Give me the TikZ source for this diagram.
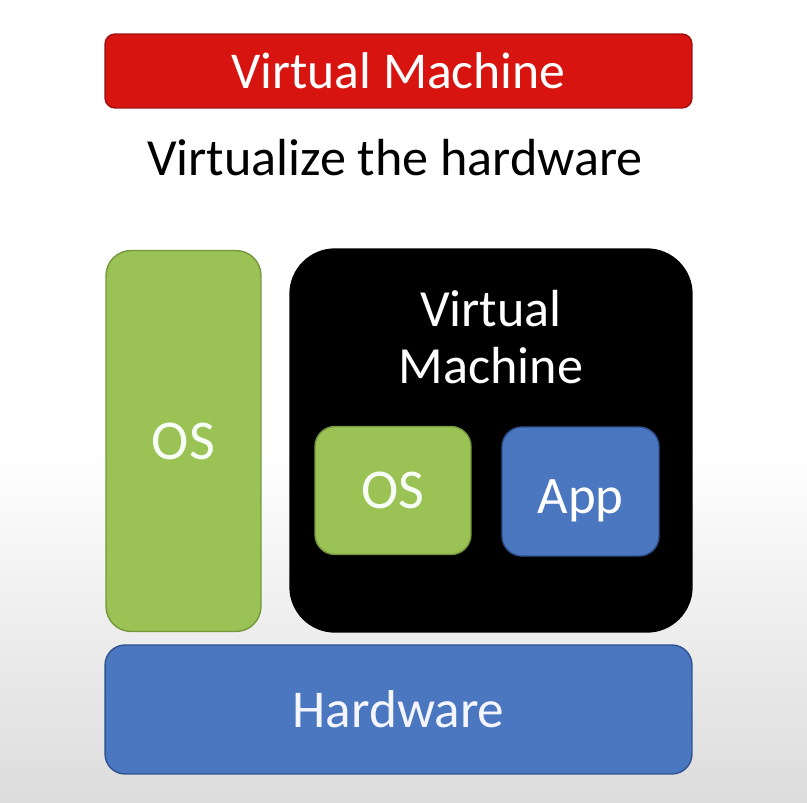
\documentclass[tikz,border=0pt]{standalone}
\usepackage{fontspec}
\setmainfont{Carlito}
\usepackage{tikz}
\usetikzlibrary{positioning}

\definecolor{vmred}{HTML}{D7140F}
\definecolor{vmredline}{HTML}{A01010}
\definecolor{osgreen}{HTML}{9BC254}
\definecolor{osgreenline}{HTML}{76973E}
\definecolor{hwblue}{HTML}{4A77BF}
\definecolor{hwblueline}{HTML}{2F5290}
\definecolor{bggray}{HTML}{DCDCDC}

\tikzset{
  box/.style={draw, line width=0.8pt, inner sep=0pt, text=white},
  greenbox/.style={box, fill=osgreen, draw=osgreenline, text=green!3!white},
  bluebox/.style={box, fill=hwblue, draw=hwblueline},
}

\begin{document}
\begin{tikzpicture}[x=0.02cm, y=-0.02cm]
   \useasboundingbox (0,0) rectangle (807,803);
   %background
   \fill[white] (0,0) rectangle (807,450);
   \shade[top color=white, bottom color=bggray] (0,450) rectangle (807,803);

   %title
   \node[box, fill=vmred, draw=vmredline, rounded corners=0.2cm,
         minimum width=11.74cm, minimum height=1.48cm,
         font=\fontsize{29.4}{31}\selectfont] (title) at (398.5,71) {Virtual Machine};
   \node[font=\fontsize{29.7}{31}\selectfont] (subtitle) at (395,158) {Virtualize the hardware};

   %host os
   \node[greenbox, rounded corners=0.5cm, minimum width=3.1cm, minimum height=7.62cm,
         font=\fontsize{32}{34}\selectfont] (hostos) at (183.5,441) {OS};

   %virtual machine
   \node[box, fill=black, draw=black, rounded corners=0.9cm,
         minimum width=8.04cm, minimum height=7.66cm] (vm) at (491,440.5) {};
   \node[text=white, align=center, font=\fontsize{29.7}{32.5}\selectfont] (vmlabel) at (491,337) {Virtual\\Machine};
   \node[greenbox, rounded corners=0.4cm, minimum width=3.12cm, minimum height=2.56cm,
         font=\fontsize{32}{34}\selectfont] (guestos) at (393,490.5) {OS};
   \node[bluebox, rounded corners=0.4cm, minimum width=3.14cm, minimum height=2.58cm,
         font=\fontsize{30}{32}\selectfont] (app) at (580.5,491.5) {};
   \node[text=white, font=\fontsize{30}{32}\selectfont] (applabel) at (580.5,501) {App};

   %hardware
   \node[bluebox, rounded corners=0.4cm, minimum width=11.74cm, minimum height=2.58cm,
         text=blue!4!white, font=\fontsize{30.3}{33}\selectfont] (hw) at (398.5,709.5) {Hardware};
\end{tikzpicture}
\end{document}
